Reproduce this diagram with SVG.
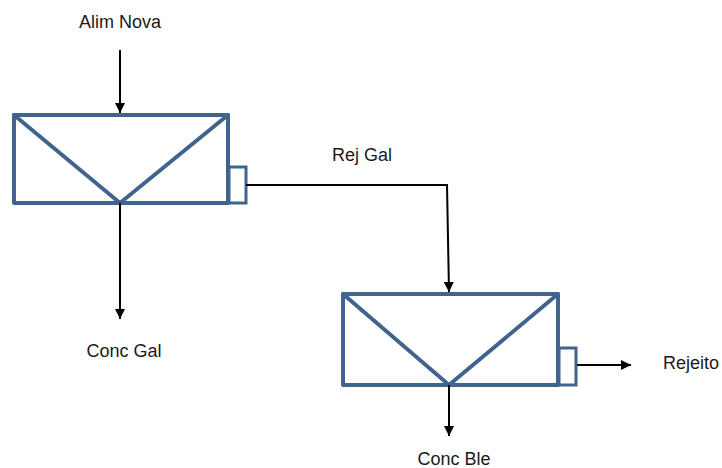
<svg xmlns="http://www.w3.org/2000/svg" width="722" height="468" viewBox="0 0 722 468">
  <defs>
    <marker id="arrow" viewBox="0 0 10 10" refX="10" refY="5" markerWidth="10" markerHeight="10" markerUnits="userSpaceOnUse" orient="auto">
      <path d="M0,0 L10,5 L0,10 Z" fill="#000"/>
    </marker>
  </defs>
  <style>
    .cell { fill: #fff; stroke: #41648e; stroke-width: 4; stroke-linejoin: round; }
    .vee { fill: none; stroke: #41648e; stroke-width: 4; stroke-linecap: round; }
    .weir { fill: #fff; stroke: #41648e; stroke-width: 3; }
    .flow { fill: none; stroke: #000; stroke-width: 2; marker-end: url(#arrow); }
    .label { font-family: "Liberation Sans", Arial, sans-serif; font-size: 18px; fill: #1a1a1a; text-anchor: middle; }
  </style>
  <rect width="722" height="468" fill="#fff"/>

  <!-- flotation cell: galena stage -->
  <g id="cell-gal">
    <rect class="cell" x="14" y="115" width="214" height="88"/>
    <polyline class="vee" points="14,115 120,203 228,115"/>
    <rect class="weir" x="229" y="167" width="17" height="36"/>
  </g>

  <!-- flotation cell: blende stage -->
  <g id="cell-ble">
    <rect class="cell" x="343" y="294" width="215" height="91"/>
    <polyline class="vee" points="343,294 449,385 558,294"/>
    <rect class="weir" x="559" y="348" width="17" height="37"/>
  </g>

  <!-- stream lines -->
  <g id="connectors">
    <line class="flow" x1="120" y1="50" x2="120" y2="113"/>
    <line class="flow" x1="120" y1="203" x2="120" y2="319"/>
    <polyline class="flow" points="246,185 447,185 449,292"/>
    <line class="flow" x1="449" y1="385" x2="449" y2="436"/>
    <line class="flow" x1="577" y1="365" x2="631" y2="365"/>
  </g>

  <!-- stream names -->
  <g id="labels">
    <text class="label" x="120" y="28">Alim Nova</text>
    <text class="label" x="124" y="357">Conc Gal</text>
    <text class="label" x="362" y="161">Rej Gal</text>
    <text class="label" x="691" y="369">Rejeito</text>
    <text class="label" x="454" y="465">Conc Ble</text>
  </g>
</svg>
